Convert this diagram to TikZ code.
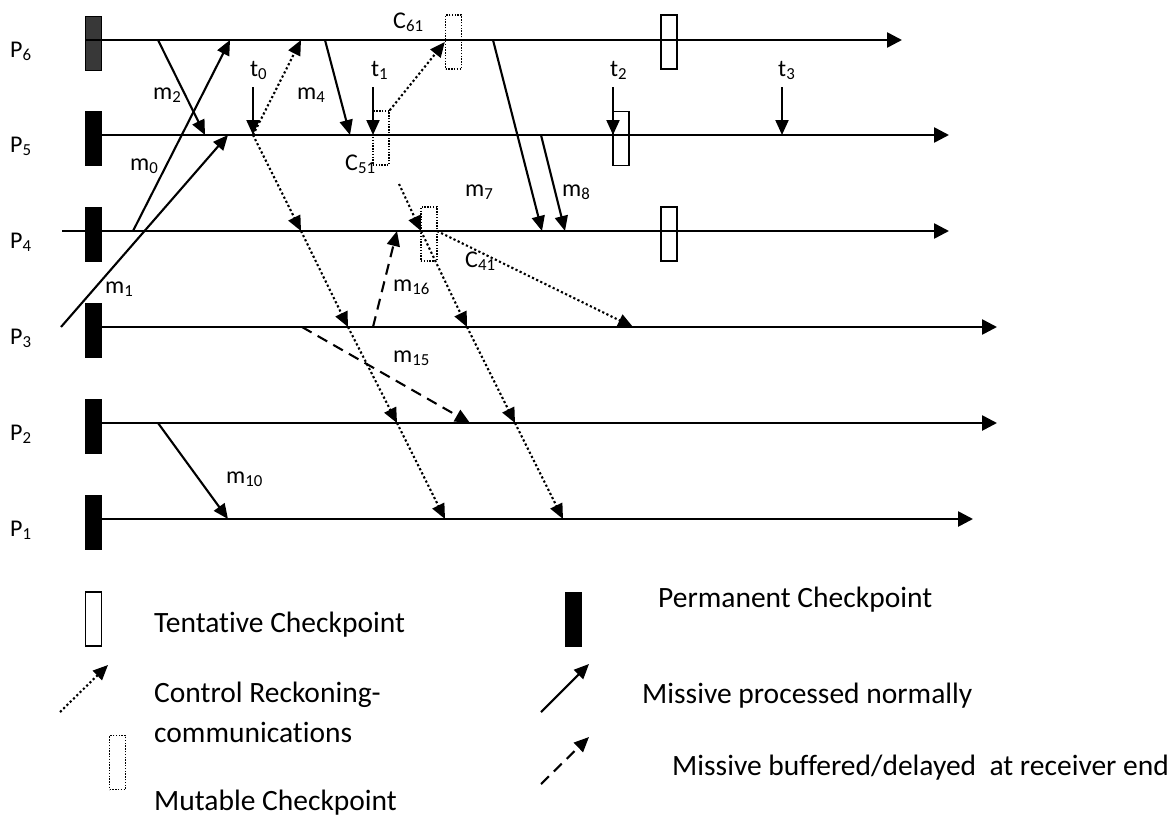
\documentclass[tikz,border=0pt]{standalone}
\usepackage{fontspec}
\setmainfont{Carlito}[Ligatures=NoCommon]
\usetikzlibrary{arrows.meta}

\begin{document}
\begin{tikzpicture}[
    x=1pt, y=-1pt,
    every node/.style={inner sep=0pt, font=\fontsize{24}{28}\selectfont},
    timeline/.style={line width=2.6pt, -{Triangle[length=15pt, width=15pt]}},
    msg/.style={line width=2.1pt, -{Triangle[length=15pt, width=13pt]}},
    ctrl/.style={msg, dash pattern=on 2.2pt off 2.4pt},
    buffered/.style={msg, dash pattern=on 11pt off 7pt},
    permck/.style={draw, line width=1pt, minimum width=16pt, minimum height=54pt},
    tentck/.style={draw, line width=1.7pt, minimum width=16pt, minimum height=54pt},
    mutck/.style={draw, line width=1.4pt, dash pattern=on 1.4pt off 1.4pt, minimum width=16pt, minimum height=54pt},
    lbl/.style={anchor=base west},
    legend/.style={anchor=base west, font=\fontsize{29.5}{34}\selectfont}
]
    \useasboundingbox (0,0) rectangle (1172,819);

    % Processes with permanent checkpoints
    \foreach \p/\y/\xs/\xe/\col in {6/40/85/902/black!78, 5/135/85/949/black, 4/231/62/949/black, 3/327/85/997/black, 2/423/85/997/black, 1/519/85/973/black} {
        \coordinate (s\p) at (\xs,\y);
        \coordinate (e\p) at (\xe,\y);
        \node[permck, fill=\col, anchor=north west] (perm\p) at (85,\y-24) {};
        \draw[timeline] (s\p) -- (e\p);
        \node[lbl] (P\p) at (10,\y+17) {P\textsubscript{\p}};
    }

    % Tentative and mutable checkpoints
    \node[tentck] (tent6) at (669,42) {};
    \node[tentck] (tent5) at (621,138.5) {};
    \node[tentck] (tent4) at (669,234) {};
    \node[mutck] (c61) at (453.5,42) {};
    \node[mutck] (c51) at (381,138) {};
    \node[mutck] (c41) at (429,234) {};

    % Event points
    \coordinate (m2s) at (158,40);   \coordinate (m2e) at (205,135);
    \coordinate (m0s) at (133,231);  \coordinate (m0e) at (230,40);
    \coordinate (m1s) at (61,327);   \coordinate (m1e) at (228,135);
    \coordinate (m4s) at (325,40);   \coordinate (m4e) at (350,135);
    \coordinate (m7s) at (493,40);   \coordinate (m7e) at (542,231);
    \coordinate (m8s) at (541,135);  \coordinate (m8e) at (565,231);
    \coordinate (m10s) at (158,423); \coordinate (m10e) at (228,519);
    \coordinate (m15s) at (302,327); \coordinate (m15e) at (470,423);
    \coordinate (m16s) at (373,327); \coordinate (m16e) at (397,231);
    \coordinate (t0s) at (253,87);   \coordinate (t0e) at (253,135);
    \coordinate (t1s) at (373,87);   \coordinate (t1e) at (373,135);
    \coordinate (t2s) at (613,87);   \coordinate (t2e) at (613,135);
    \coordinate (t3s) at (782,87);   \coordinate (t3e) at (782,135);
    \coordinate (r6a) at (301,40);
    \coordinate (r4a) at (301,231);
    \coordinate (r3a) at (348,327);
    \coordinate (r2a) at (397,423);
    \coordinate (r1a) at (445,519);
    \coordinate (r5b) at (399,184);
    \coordinate (r4b) at (421,231);
    \coordinate (r3b) at (467,327);
    \coordinate (r2b) at (515,423);
    \coordinate (r1b) at (563,519);
    \coordinate (r4c) at (437,231);
    \coordinate (r3c) at (633,327);

    % Normal messages
    \draw[msg] (m2s) -- (m2e);
    \draw[msg] (m0s) -- (m0e);
    \draw[msg] (m1s) -- (m1e);
    \draw[msg] (m4s) -- (m4e);
    \draw[msg] (m7s) -- (m7e);
    \draw[msg] (m8s) -- (m8e);
    \draw[msg] (m10s) -- (m10e);
    \draw[msg] (t0s) -- (t0e);
    \draw[msg] (t1s) -- (t1e);
    \draw[msg] (t2s) -- (t2e);
    \draw[msg] (t3s) -- (t3e);

    % Buffered messages
    \draw[buffered] (m15s) -- (m15e);
    \draw[buffered] (m16s) -- (m16e);

    % Control messages
    \draw[ctrl] (t0e) -- (r6a);
    \draw[ctrl] (t0e) -- (r4a);
    \draw[ctrl] (r4a) -- (r3a);
    \draw[ctrl] (r3a) -- (r2a);
    \draw[ctrl] (r2a) -- (r1a);
    \draw[ctrl] (c51.north east) -- (c61.west);
    \draw[ctrl] (r5b) -- (r4b);
    \draw[ctrl] (r4b) -- (r3b);
    \draw[ctrl] (r3b) -- (r2b);
    \draw[ctrl] (r2b) -- (r1b);
    \draw[ctrl] (r4c) -- (r3c);

    % Labels
    \node[lbl] (lm2) at (153,99) {m\textsubscript{2}};
    \node[lbl] (lm0) at (130,170) {m\textsubscript{0}};
    \node[lbl] (lm1) at (105,293) {m\textsubscript{1}};
    \node[lbl] (lm4) at (297,99) {m\textsubscript{4}};
    \node[lbl] (lm7) at (465,196) {m\textsubscript{7}};
    \node[lbl] (lm8) at (562,196) {m\textsubscript{8}};
    \node[lbl] (lm10) at (226,483) {m\textsubscript{10}};
    \node[lbl] (lm15) at (393,362) {m\textsubscript{15}};
    \node[lbl] (lm16) at (393,291) {m\textsubscript{16}};
    \node[lbl] (lt0) at (250,76) {t\textsubscript{0}};
    \node[lbl] (lt1) at (371,76) {t\textsubscript{1}};
    \node[lbl] (lt2) at (610,76) {t\textsubscript{2}};
    \node[lbl] (lt3) at (778,76) {t\textsubscript{3}};
    \node[lbl] (lc61) at (393,28) {C\textsubscript{61}};
    \node[lbl] (lc51) at (345,170) {C\textsubscript{51}};
    \node[lbl] (lc41) at (465,267) {C\textsubscript{41}};

    % Legend
    \node[tentck] (legtent) at (93.5,619) {};
    \node[legend] (legtenttxt) at (154,632) {Tentative Checkpoint};
    \coordinate (legctrls) at (60,712);
    \coordinate (legctrle) at (108,665);
    \draw[ctrl] (legctrls) -- (legctrle);
    \node[legend] (legctrltxt) at (154,702) {Control Reckoning-};
    \node[legend] (legctrltxtb) at (154,742) {communications};
    \node[mutck] (legmut) at (117.5,762.5) {};
    \node[legend] (legmuttxt) at (154,810) {Mutable Checkpoint};
    \node[permck, fill=black] (legperm) at (573.5,619) {};
    \node[legend] (legpermtxt) at (658,607) {Permanent Checkpoint};
    \coordinate (legmsgs) at (541,712);
    \coordinate (legmsge) at (589,664);
    \draw[msg] (legmsgs) -- (legmsge);
    \node[legend] (legmsgtxt) at (642,703) {Missive processed normally};
    \coordinate (legbufs) at (541,784);
    \coordinate (legbufe) at (589,737);
    \draw[buffered] (legbufs) -- (legbufe);
    \node[legend] (legbuftxt) at (672,775) {Missive buffered/delayed\ \ at receiver end};
\end{tikzpicture}
\end{document}
